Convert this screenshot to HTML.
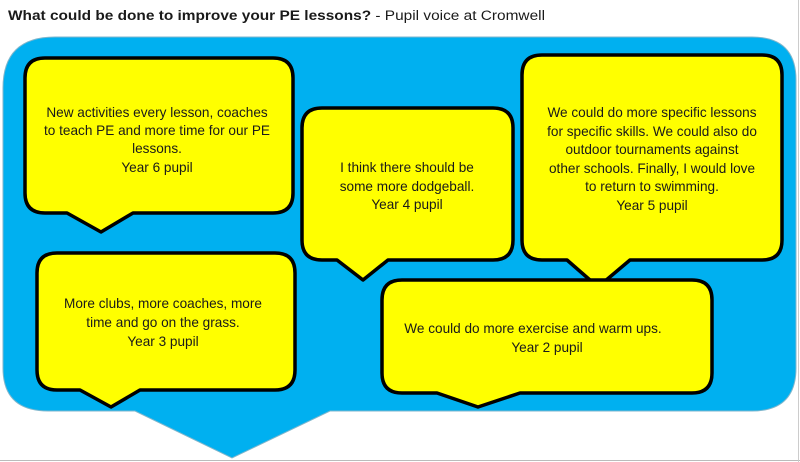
<!DOCTYPE html>
<html><head><meta charset="utf-8"><style>
html,body{margin:0;padding:0;background:#fff;width:800px;height:462px;overflow:hidden}
svg{display:block}
text{font-family:"Liberation Sans",sans-serif;fill:#1a1a1a}
.b text{font-size:13.6px;text-anchor:middle}
</style></head><body>
<svg width="800" height="462" viewBox="0 0 800 462" xmlns="http://www.w3.org/2000/svg">
<line x1="0" y1="460.5" x2="800" y2="460.5" stroke="#bbb" stroke-width="1"/>
<line x1="798.5" y1="0" x2="798.5" y2="462" stroke="#ccc" stroke-width="1"/>
<text x="8" y="20" font-size="13.5" textLength="537" lengthAdjust="spacingAndGlyphs"><tspan font-weight="bold">What could be done to improve your PE lessons?</tspan> - Pupil voice at Cromwell</text>
<path d="M55,37 H752 Q796,37 796,80 V368 Q796,411 752,411 H330 L232,458 L135,411 H48 Q3,411 3,368 V88 Q3,37 55,37 Z" fill="#00B0F0" stroke="#7fb6cc" stroke-width="1"/>
<g fill="#FFFF00" stroke="#000" stroke-width="3.5" stroke-linejoin="round">
<path d="M45,58 H273 Q293,58 293,78 V193 Q293,213 273,213 H133 L101,232 L67,213 H45 Q25,213 25,193 V78 Q25,58 45,58 Z"/>
<path d="M322,108 H493 Q513,108 513,128 V240 Q513,260 493,260 H388 L363,280 L337,260 H322 Q302,260 302,240 V128 Q302,108 322,108 Z"/>
<path d="M542,55 H762 Q782,55 782,75 V240 Q782,260 762,260 H630 L598,287 L567,260 H542 Q522,260 522,240 V75 Q522,55 542,55 Z"/>
<path d="M57,253 H275 Q295,253 295,273 V370 Q295,390 275,390 H140 L111,407 L80,390 H57 Q37,390 37,370 V273 Q37,253 57,253 Z"/>
<path d="M402,280 H692 Q712,280 712,300 V373 Q712,393 692,393 H520 L478,407 L437,393 H402 Q382,393 382,373 V300 Q382,280 402,280 Z"/>
</g>
<g class="b">
<text x="157" y="117">New activities every lesson, coaches</text>
<text x="157" y="135">to teach PE and more time for our PE</text>
<text x="157" y="153">lessons.</text>
<text x="157" y="172">Year 6 pupil</text>
<text x="407" y="172">I think there should be</text>
<text x="407" y="191">some more dodgeball.</text>
<text x="407" y="209">Year 4 pupil</text>
<text x="652" y="117">We could do more specific lessons</text>
<text x="652" y="136">for specific skills. We could also do</text>
<text x="652" y="154">outdoor tournaments against</text>
<text x="652" y="173">other schools. Finally, I would love</text>
<text x="652" y="191">to return to swimming.</text>
<text x="652" y="210">Year 5 pupil</text>
<text x="163" y="308">More clubs, more coaches, more</text>
<text x="163" y="327">time and go on the grass.</text>
<text x="163" y="346">Year 3 pupil</text>
<text x="533" y="333">We could do more exercise and warm ups.</text>
<text x="547" y="352">Year 2 pupil</text>
</g>
</svg>
</body></html>
